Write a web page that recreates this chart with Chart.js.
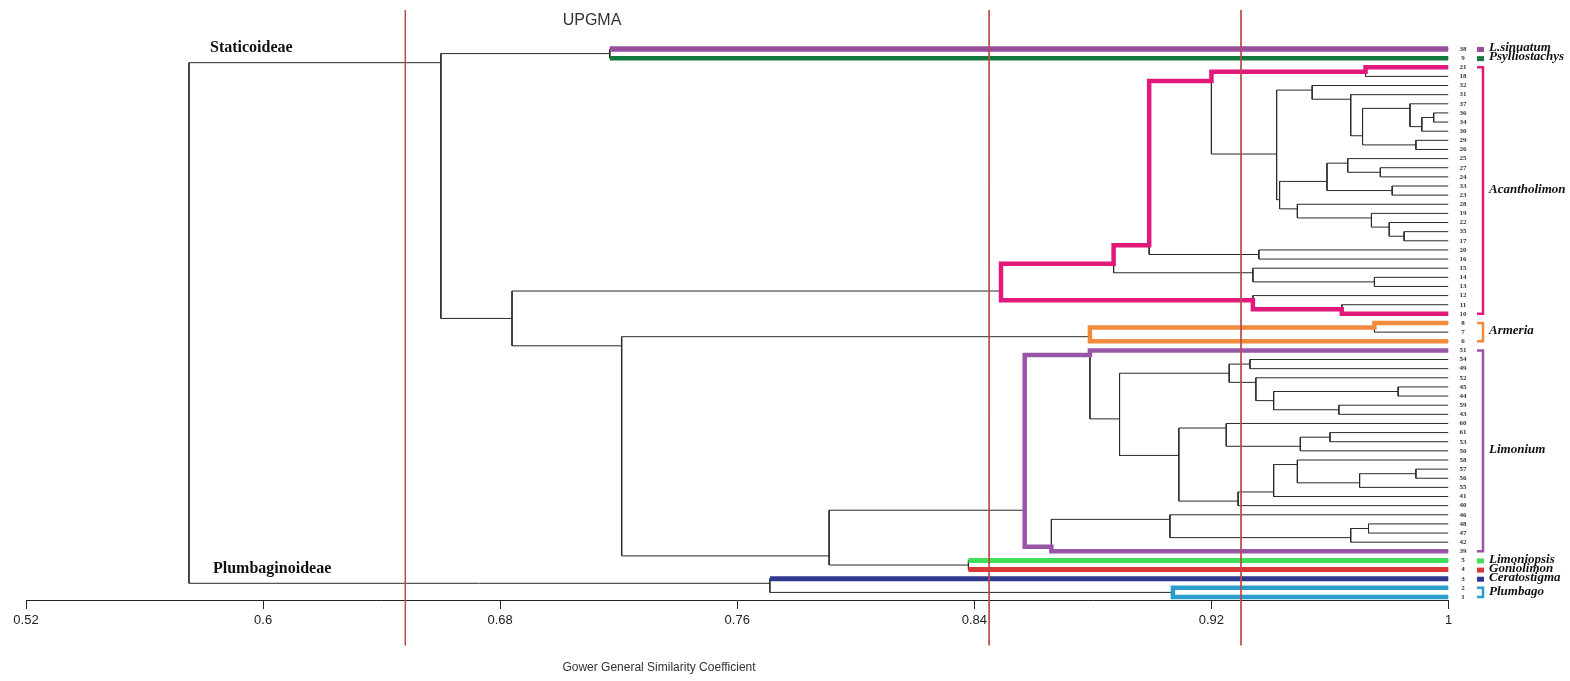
<!DOCTYPE html>
<html>
<head>
<meta charset="utf-8">
<title>UPGMA dendrogram</title>
<script src="https://cdn.jsdelivr.net/npm/chart.js@4.4.1/dist/chart.umd.min.js"></script>
<style>
  html, body { margin: 0; padding: 0; background: #fff; }
</style>
</head>
<body>
<canvas id="dendro" width="1570" height="681"></canvas>
<script>
// leaf labels, top to bottom
const leafLabels = ['38','9','21','18','32','31','37','36','34','30','29','26','25','27','24','33','23','28','19','22','35','17','20','16','15','14','13','12','11','10','8','7','6','51','54','49','52','45','44','59','43','60','61','53','50','58','57','56','55','41','40','46','48','47','42','39','5','4','3','2','1'];

// merges: [node, upper child, lower child, similarity]
const merges = [
  ['s1', '38', '9', 0.717],
  ['a1', '21', '18', 0.972],
  ['a2', '36', '34', 0.995],
  ['a3', 'a2', '30', 0.991],
  ['a4', '37', 'a3', 0.987],
  ['a5', '29', '26', 0.989],
  ['a6', 'a4', 'a5', 0.971],
  ['a7', '31', 'a6', 0.967],
  ['a8', '32', 'a7', 0.954],
  ['a9', '27', '24', 0.977],
  ['a10', '25', 'a9', 0.966],
  ['a11', '33', '23', 0.981],
  ['a12', 'a10', 'a11', 0.959],
  ['a13', '35', '17', 0.985],
  ['a14', '22', 'a13', 0.980],
  ['a15', '19', 'a14', 0.974],
  ['a16', '28', 'a15', 0.949],
  ['a17', 'a12', 'a16', 0.943],
  ['a18', 'a8', 'a17', 0.942],
  ['a19', 'a1', 'a18', 0.920],
  ['a20', '20', '16', 0.936],
  ['a21', 'a19', 'a20', 0.899],
  ['a22', '14', '13', 0.975],
  ['a23', '15', 'a22', 0.934],
  ['a24', 'a21', 'a23', 0.887],
  ['a25', '11', '10', 0.964],
  ['a26', '12', 'a25', 0.934],
  ['a27', 'a24', 'a26', 0.849],
  ['r1', '8', '7', 0.975],
  ['r2', 'r1', '6', 0.879],
  ['l1', '54', '49', 0.933],
  ['l2', '45', '44', 0.983],
  ['l3', '59', '43', 0.963],
  ['l4', 'l2', 'l3', 0.941],
  ['l5', '52', 'l4', 0.935],
  ['l6', 'l1', 'l5', 0.926],
  ['l7', '61', '53', 0.960],
  ['l8', 'l7', '50', 0.950],
  ['l9', '60', 'l8', 0.925],
  ['l10', '57', '56', 0.989],
  ['l11', 'l10', '55', 0.970],
  ['l12', '58', 'l11', 0.949],
  ['l13', 'l12', '41', 0.941],
  ['l14', 'l13', '40', 0.929],
  ['l15', 'l9', 'l14', 0.909],
  ['l16', 'l6', 'l15', 0.889],
  ['l17', '51', 'l16', 0.879],
  ['l18', '48', '47', 0.973],
  ['l19', 'l18', '42', 0.967],
  ['l20', '46', 'l19', 0.906],
  ['l21', 'l20', '39', 0.866],
  ['l22', 'l17', 'l21', 0.857],
  ['g1', '5', '4', 0.838],
  ['g2', 'l22', 'g1', 0.791],
  ['g3', 'r2', 'g2', 0.721],
  ['g4', 'a27', 'g3', 0.684],
  ['g5', 's1', 'g4', 0.660],
  ['p1', '2', '1', 0.907],
  ['p2', '3', 'p1', 0.771],
  ['root', 'g5', 'p2', 0.575]
];

const tickValues = [0.52, 0.6, 0.68, 0.76, 0.84, 0.92, 1];
const tickLabels = ['0.52', '0.6', '0.68', '0.76', '0.84', '0.92', '1'];

// similarity levels of the red cut lines
const cutLevels = [0.648, 0.845, 0.93];

// genera marked on the right
const groupNames = ['L.sinuatum', 'Psylliostachys', 'Acantholimon', 'Armeria', 'Limonium', 'Limoniopsis', 'Goniolimon', 'Ceratostigma', 'Plumbago'];
const groupNodes = ['38', '9', 'a27', 'r2', 'l22', '5', '4', '3', 'p1'];
const groupColors = ['#97509e', '#15793d', '#e0197b', '#f08b3d', '#9a56a6', '#3fdf5c', '#d83838', '#2f3a8e', '#2b9dcd'];
const groupWidths = [5.5, 4.5, 4.5, 4.5, 4.5, 5, 5, 5, 4.5];

// layout of the leaves: node row sits between its two children
const nodes = {};
leafLabels.forEach((lab, i) => { nodes[lab] = { sim: 1, y: i, first: i, last: i }; });
merges.forEach(([id, a, b, s]) => {
  const A = nodes[a], B = nodes[b];
  nodes[id] = { a, b, sim: s, first: A.first, last: B.last, y: (A.last + B.first) / 2 };
});

function parentSim(id) {
  const m = merges.find(r => r[1] === id || r[2] === id);
  return m ? m[3] : nodes[id].sim;
}

// outline path from a node down its upper-most or lower-most branch
function edge(id, side, fromSim) {
  const n = nodes[id];
  const pts = [{ x: fromSim, y: n.y }, { x: n.sim, y: n.y }];
  if (n.a) return pts.concat(edge(side === 'top' ? n.a : n.b, side, n.sim));
  return pts;
}

const treeSets = merges.map(([id, a, b, s]) => ({
  data: [
    { x: nodes[a].sim, y: nodes[a].y }, { x: s, y: nodes[a].y },
    { x: s, y: nodes[b].y }, { x: nodes[b].sim, y: nodes[b].y }
  ],
  borderColor: '#2a2a2a', borderWidth: 1, showLine: true, order: 3
}));

const highlightSets = groupNodes.map((id, k) => {
  const n = nodes[id];
  let pts;
  if (n.a) pts = edge(n.a, 'top', n.sim).reverse().concat(edge(n.b, 'bottom', n.sim));
  else pts = [{ x: parentSim(id), y: n.y }, { x: 1, y: n.y }];
  return { data: pts, borderColor: groupColors[k], borderWidth: groupWidths[k], showLine: true, order: 2, borderJoinStyle: 'miter' };
});

const yMin = -4.27, yMax = 60.33;

const cutSets = cutLevels.map(v => ({
  data: [{ x: v, y: yMin }, { x: v, y: 65.3 }],
  borderColor: '#bb4a4a', borderWidth: 1, showLine: true, order: 1, clip: false
}));

const annotate = {
  id: 'annotate',
  afterDraw(chart) {
    const { ctx, scales: { x, y } } = chart;
    ctx.save();
    ctx.textBaseline = 'middle';

    ctx.fillStyle = '#333';
    ctx.font = '16px "Liberation Sans", Arial, sans-serif';
    ctx.textAlign = 'center';
    ctx.fillText('UPGMA', 592, 21);

    ctx.font = '12px "Liberation Sans", Arial, sans-serif';
    ctx.fillText('Gower General Similarity Coefficient', 659, 668);

    ctx.fillStyle = '#111';
    ctx.textAlign = 'left';
    ctx.font = 'bold 16px "Liberation Serif", "Times New Roman", serif';
    ctx.fillText('Staticoideae', 210, 48);
    ctx.fillText('Plumbaginoideae', 213, 569);

    // genus markers and names
    const mx = x.right + 28.5;
    ctx.font = 'italic bold 13px "Liberation Serif", "Times New Roman", serif';
    groupNodes.forEach((id, k) => {
      const n = nodes[id];
      const y0 = y.getPixelForValue(n.first), y1 = y.getPixelForValue(n.last);
      ctx.fillStyle = ctx.strokeStyle = groupColors[k];
      if (n.first === n.last) {
        ctx.fillRect(mx, y0 - 2, 7, 5);
      } else {
        ctx.lineWidth = 2.5;
        ctx.beginPath();
        ctx.moveTo(mx, y0);
        ctx.lineTo(mx + 6, y0);
        ctx.lineTo(mx + 6, y1);
        ctx.lineTo(mx, y1);
        ctx.stroke();
      }
      ctx.fillStyle = '#111';
      ctx.fillText(groupNames[k], mx + 12, (y0 + y1) / 2 - 1);
    });
    ctx.restore();
  }
};

new Chart(document.getElementById('dendro'), {
  type: 'scatter',
  data: { datasets: [...treeSets, ...highlightSets, ...cutSets] },
  options: {
    responsive: false,
    animation: false,
    devicePixelRatio: 1,
    layout: { padding: { left: 26, right: 0, top: 10, bottom: 40 } },
    plugins: { legend: { display: false }, tooltip: { enabled: false } },
    elements: { point: { radius: 0, hoverRadius: 0 }, line: { tension: 0 } },
    scales: {
      x: {
        type: 'linear', min: 0.52, max: 1,
        afterBuildTicks: s => { s.ticks = tickValues.map(v => ({ value: v })); },
        afterFit: s => { s.height = 41; s.paddingLeft = 0; s.paddingRight = 0; },
        ticks: {
          autoSkip: false, maxRotation: 0, padding: 4, color: '#222',
          font: { family: '"Liberation Sans", Arial, sans-serif', size: 13 },
          callback: v => tickLabels[tickValues.indexOf(v)]
        },
        grid: { display: true, drawOnChartArea: false, drawTicks: true, tickLength: 9, color: '#222' },
        border: { display: true, color: '#222', width: 1 }
      },
      y: {
        type: 'linear', position: 'right', reverse: true, min: yMin, max: yMax,
        afterBuildTicks: s => { s.ticks = leafLabels.map((_, i) => ({ value: i })); },
        afterFit: s => { s.width = 121.5; s.paddingTop = 0; s.paddingBottom = 0; },
        ticks: {
          autoSkip: false, padding: 11, crossAlign: 'center', color: '#333',
          font: { family: '"Liberation Serif", serif', size: 7, weight: 'bold' },
          callback: v => leafLabels[v]
        },
        grid: { display: false, drawTicks: false },
        border: { display: false }
      }
    }
  },
  plugins: [annotate]
});
</script>
</body>
</html>
